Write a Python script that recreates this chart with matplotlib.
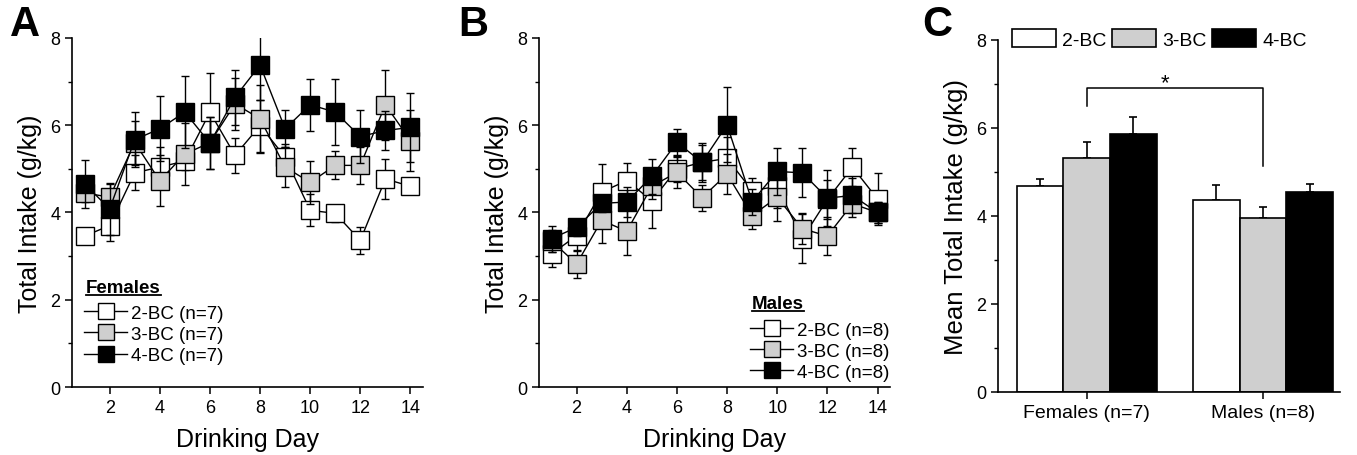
import numpy as np
import matplotlib.pyplot as plt
from matplotlib.ticker import MultipleLocator

plt.rcParams['font.family'] = ['Liberation Sans', 'DejaVu Sans']

days = np.arange(1, 15)
groups = ['2-BC', '3-BC', '4-BC']
colors = ['white', '#cfcfcf', 'black']

# Panel A - females, daily total intake (g/kg)
fem_2bc = [3.46, 3.70, 4.91, 5.04, 5.18, 6.30, 5.31, 5.99, 5.27, 4.05, 3.98, 3.36, 4.77, 4.60]
fem_2bc_sem = [0.10, 0.35, 0.40, 0.45, 0.20, 0.90, 0.40, 0.60, 0.30, 0.37, 0.20, 0.30, 0.45, 0.15]
fem_3bc = [4.45, 4.35, 5.60, 4.73, 5.34, 5.60, 6.49, 6.15, 5.04, 4.69, 5.08, 5.08, 6.47, 5.65]
fem_3bc_sem = [0.20, 0.30, 0.50, 0.58, 0.70, 0.60, 0.60, 0.78, 0.46, 0.50, 0.32, 0.42, 0.80, 0.70]
fem_4bc = [4.66, 4.08, 5.67, 5.92, 6.30, 5.59, 6.64, 7.38, 5.92, 6.47, 6.30, 5.74, 5.88, 5.95]
fem_4bc_sem = [0.55, 0.60, 0.63, 0.74, 0.82, 0.60, 0.63, 0.81, 0.42, 0.60, 0.76, 0.61, 0.45, 0.80]

# Panel B - males, daily total intake (g/kg)
mal_2bc = [3.05, 3.47, 4.47, 4.73, 4.27, 5.00, 5.15, 5.24, 4.50, 4.60, 3.40, 4.30, 5.04, 4.31]
mal_2bc_sem = [0.30, 0.35, 0.64, 0.41, 0.63, 0.30, 0.40, 0.50, 0.30, 0.50, 0.56, 0.45, 0.43, 0.60]
mal_3bc = [3.35, 2.82, 3.82, 3.57, 4.60, 4.92, 4.34, 4.88, 3.93, 4.35, 3.63, 3.46, 4.20, 4.00]
mal_3bc_sem = [0.25, 0.32, 0.52, 0.54, 0.30, 0.35, 0.30, 0.45, 0.30, 0.55, 0.35, 0.44, 0.30, 0.25]
mal_4bc = [3.40, 3.66, 4.21, 4.24, 4.83, 5.61, 5.15, 6.01, 4.25, 4.94, 4.91, 4.33, 4.39, 4.00]
mal_4bc_sem = [0.30, 0.20, 0.20, 0.35, 0.40, 0.30, 0.44, 0.86, 0.30, 0.53, 0.56, 0.65, 0.40, 0.25]

# Panel C - mean total intake
sexes = ['Females (n=7)', 'Males (n=8)']
mean_2bc = [4.68, 4.36]
mean_2bc_sem = [0.15, 0.34]
mean_3bc = [5.31, 3.96]
mean_3bc_sem = [0.38, 0.25]
mean_4bc = [5.87, 4.55]
mean_4bc_sem = [0.39, 0.17]

fig = plt.figure(figsize=(13.57, 4.56), dpi=100)
axA = fig.add_axes([0.0531, 0.1491, 0.2586, 0.7654])
axB = fig.add_axes([0.3972, 0.1491, 0.2587, 0.7654])
axC = fig.add_axes([0.7354, 0.1382, 0.2520, 0.7719])


def style_axis(ax):
    for s in ['top', 'right']:
        ax.spines[s].set_visible(False)
    for s in ['left', 'bottom']:
        ax.spines[s].set_linewidth(1.2)
    ax.set_ylim(0, 8)
    ax.yaxis.set_major_locator(MultipleLocator(2))
    ax.yaxis.set_minor_locator(MultipleLocator(1))
    ax.tick_params(axis='both', which='major', direction='out', length=5, width=1.1, labelsize=13)
    ax.tick_params(axis='y', which='minor', direction='out', length=3, width=1.0)


def daily_panel(ax, series, sems, sex, n, title_xy, leg_xy):
    for i, (vals, err) in enumerate(zip(series, sems)):
        ax.errorbar(days, vals, yerr=err, color='black', lw=1.0, elinewidth=1.0,
                    capsize=3, capthick=1.0, marker='s', markersize=13,
                    markerfacecolor=colors[i], markeredgecolor='black', markeredgewidth=1.0,
                    label=f'{groups[i]} (n={n})', zorder=2 + i)
    style_axis(ax)
    ax.set_xlim(0.5, 14.5)
    ax.set_xticks(range(2, 15, 2))
    ax.set_xlabel('Drinking Day', fontsize=18, labelpad=8)
    ax.set_ylabel('Total Intake (g/kg)', fontsize=18, labelpad=6)
    handles, labels = ax.get_legend_handles_labels()
    handles = [h[0] for h in handles]
    ax.legend(handles, labels, loc='upper left', bbox_to_anchor=leg_xy, frameon=False,
              fontsize=13.5, borderpad=0, borderaxespad=0, handlelength=2.3,
              handletextpad=0.2, labelspacing=0.22, markerscale=0.9)
    t = ax.text(title_xy[0], title_xy[1], sex, transform=ax.transAxes, fontsize=13.5,
                fontweight='bold', ha='left', va='center')
    return t


tA = daily_panel(axA, [fem_2bc, fem_3bc, fem_4bc], [fem_2bc_sem, fem_3bc_sem, fem_4bc_sem],
                 'Females', 7, (0.04, 0.284), (0.035, 0.236))
tB = daily_panel(axB, [mal_2bc, mal_3bc, mal_4bc], [mal_2bc_sem, mal_3bc_sem, mal_4bc_sem],
                 'Males', 8, (0.607, 0.238), (0.602, 0.188))

# Panel C - bars
x = np.arange(len(sexes))
w = 0.265
for i, (vals, err) in enumerate(zip([mean_2bc, mean_3bc, mean_4bc],
                                    [mean_2bc_sem, mean_3bc_sem, mean_4bc_sem])):
    pos = x + (i - 1) * w
    axC.bar(pos, vals, width=w, color=colors[i], edgecolor='black', linewidth=1.2,
            label=groups[i], zorder=2)
    axC.errorbar(pos, vals, yerr=[np.zeros(len(err)), err], fmt='none', ecolor='black',
                 elinewidth=1.2, capsize=3, capthick=1.2, zorder=1)
style_axis(axC)
axC.set_xlim(-0.504, 1.4375)
axC.set_xticks(x)
axC.set_xticklabels(sexes, fontsize=14)
axC.set_ylabel('Mean Total Intake (g/kg)', fontsize=18.5, labelpad=6)
axC.legend(loc='center left', bbox_to_anchor=(0.041, 1.003), ncol=3, frameon=False,
           fontsize=14, borderpad=0, borderaxespad=0, handlelength=2.27, handleheight=1.08,
           handletextpad=0.3, columnspacing=0.3)
axC.plot([0, 0, 1.0, 1.0], [6.5, 6.92, 6.92, 5.14], color='black', lw=1.1, clip_on=False)
axC.text(0.443, 6.8, '*', fontsize=16, ha='center', va='bottom')

# panel letters
for lbl, xp in zip(['A', 'B', 'C'], [10, 458, 922]):
    fig.text(xp / 1357, 1 - 45 / 456, lbl, fontsize=30, fontweight='bold', ha='left', va='bottom')

# underline the legend titles
fig.canvas.draw()
r = fig.canvas.get_renderer()
for ax, t in [(axA, tA), (axB, tB)]:
    bb = t.get_window_extent(renderer=r).transformed(ax.transAxes.inverted())
    ax.plot([bb.x0, bb.x1], [bb.y0 + 0.005, bb.y0 + 0.005], color='black', lw=1.3,
            transform=ax.transAxes, clip_on=False)

fig.savefig('out.png', dpi=100)
